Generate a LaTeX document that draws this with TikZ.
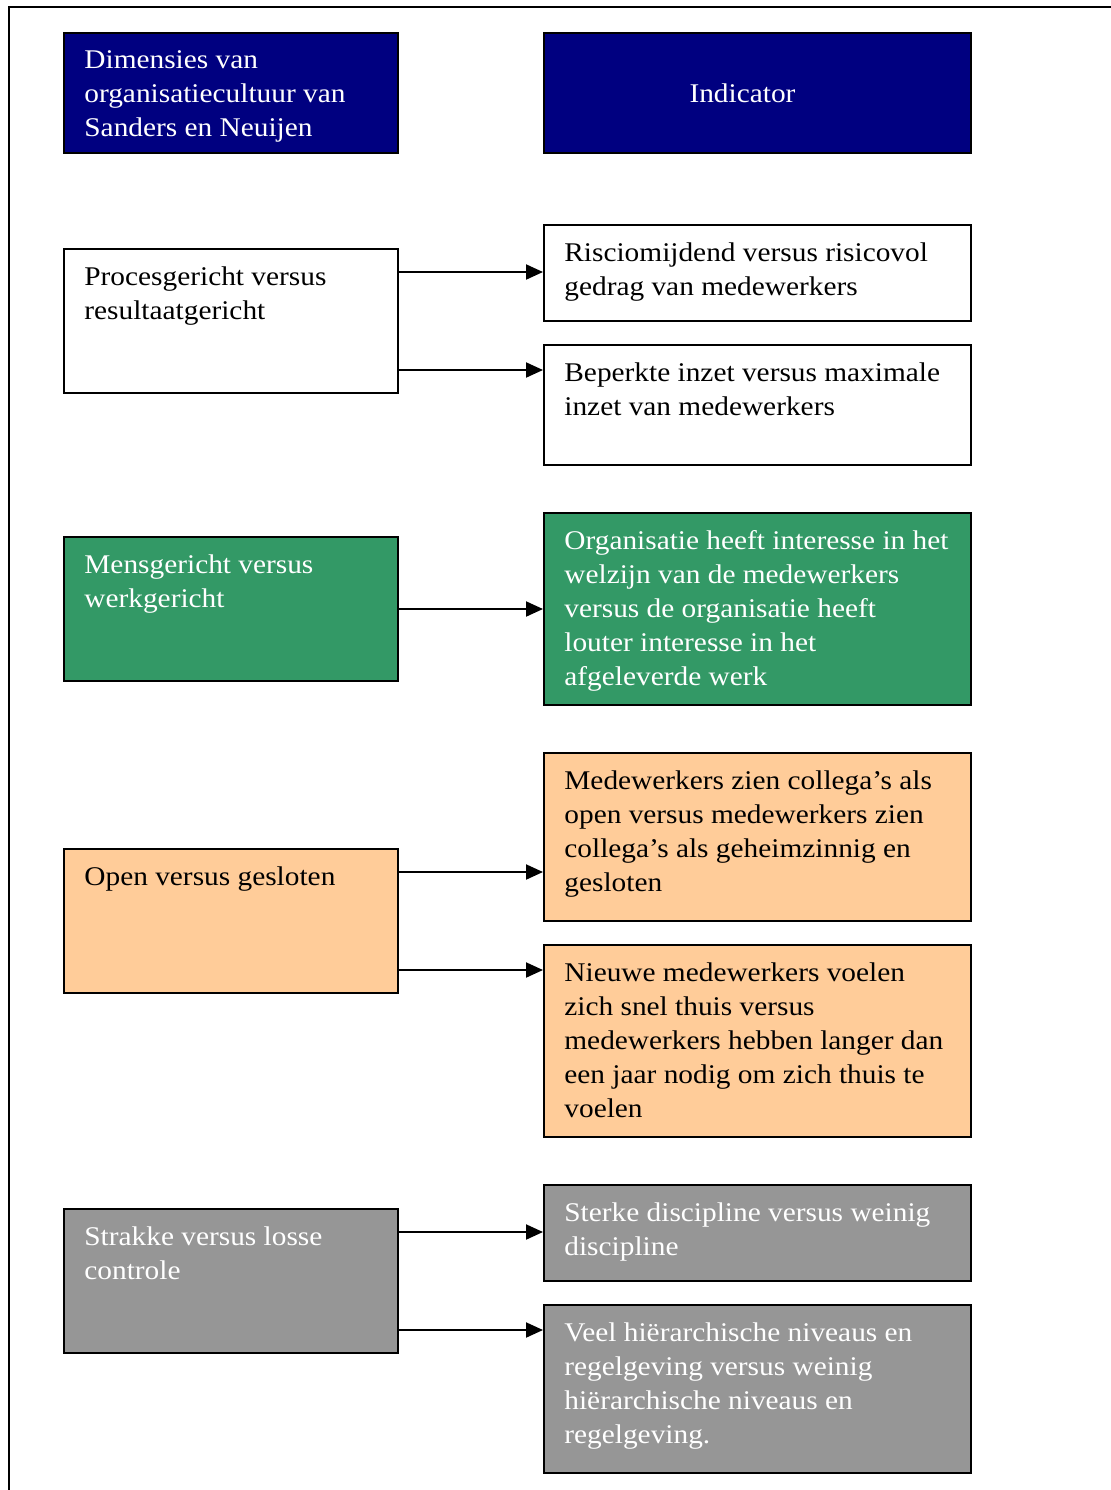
\documentclass[tikz,border=0pt]{standalone}
\usepackage{fontspec}
\setmainfont{Liberation Serif}[FakeStretch=1.087]
\usetikzlibrary{arrows.meta}

\definecolor{navyfill}{HTML}{000080}
\definecolor{greenfill}{HTML}{339966}
\definecolor{orangefill}{HTML}{FFCC99}
\definecolor{grayfill}{HTML}{969696}

\newcommand\celltext[1]{\parbox[t]{210pt}{\raggedright #1}}

\tikzset{
  panel/.style={draw=black, line width=1pt, rectangle, inner sep=0pt, anchor=north west},
  dimbox/.style={panel, minimum width=167pt, minimum height=72pt},
  indbox/.style={panel, minimum width=213.5pt},
  label/.style={inner sep=0pt, anchor=base west,
    font=\fontsize{13.5}{17}\selectfont},
  conn/.style={line width=1pt, -{Triangle[length=8.5pt,width=7.5pt]}},
}

\begin{document}
\begin{tikzpicture}[x=0.5pt, y=-0.5pt]
\useasboundingbox (0,0) rectangle (1110,1490);

% page frame
\draw[line width=1pt] (9,1500) -- (9,7) -- (1120,7);

% headers
\node[panel, fill=navyfill, minimum width=167pt, minimum height=60pt] (hdim) at (63,32) {};
\node[label, text=white] (hdimt) at (84,68) {\celltext{Dimensies van\\organisatiecultuur van\\Sanders en Neuijen}};
\node[indbox, fill=navyfill, minimum height=60pt] (hind) at (543,32) {};
\node[inner sep=0pt, text=white, font=\fontsize{13.5}{17}\selectfont] (hindt) at ([xshift=-7.5pt]hind.center) {Indicator};

% process vs result
\node[dimbox, fill=white] (d1) at (63,248) {};
\node[label] (d1t) at (84,285) {\celltext{Procesgericht versus\\resultaatgericht}};
\node[indbox, fill=white, minimum height=48pt] (i1a) at (543,224) {};
\node[label] (i1at) at (564,261) {\celltext{Risciomijdend versus risicovol\\gedrag van medewerkers}};
\node[indbox, fill=white, minimum height=60pt] (i1b) at (543,344) {};
\node[label] (i1bt) at (564,381) {\celltext{Beperkte inzet versus maximale\\inzet van medewerkers}};

% people vs work
\node[dimbox, fill=greenfill] (d2) at (63,536) {};
\node[label, text=white] (d2t) at (84,573) {\celltext{Mensgericht versus\\werkgericht}};
\node[indbox, fill=greenfill, minimum height=96pt] (i2) at (543,512) {};
\node[label, text=white] (i2t) at (564,549) {\celltext{Organisatie heeft interesse in het\\welzijn van de medewerkers\\versus de organisatie heeft\\louter interesse in het\\afgeleverde werk}};

% open vs closed
\node[dimbox, fill=orangefill] (d3) at (63,848) {};
\node[label] (d3t) at (84,885) {\celltext{Open versus gesloten}};
\node[indbox, fill=orangefill, minimum height=84pt] (i3a) at (543,752) {};
\node[label] (i3at) at (564,789) {\celltext{Medewerkers zien collega’s als\\open versus medewerkers zien\\collega’s als geheimzinnig en\\gesloten}};
\node[indbox, fill=orangefill, minimum height=96pt] (i3b) at (543,944) {};
\node[label] (i3bt) at (564,981) {\celltext{Nieuwe medewerkers voelen\\zich snel thuis versus\\medewerkers hebben langer dan\\een jaar nodig om zich thuis te\\voelen}};

% tight vs loose control
\node[dimbox, fill=grayfill] (d4) at (63,1208) {};
\node[label, text=white] (d4t) at (84,1245) {\celltext{Strakke versus losse\\controle}};
\node[indbox, fill=grayfill, minimum height=48pt] (i4a) at (543,1184) {};
\node[label, text=white] (i4at) at (564,1221) {\celltext{Sterke discipline versus weinig\\discipline}};
\node[indbox, fill=grayfill, minimum height=84pt] (i4b) at (543,1304) {};
\node[label, text=white] (i4bt) at (564,1341) {\celltext{Veel hiërarchische niveaus en\\regelgeving versus weinig\\hiërarchische niveaus en\\regelgeving.}};

% connectors
\draw[conn] ([yshift=-12pt]d1.north east) -- ([yshift=-12pt]d1.north east -| i1a.west);
\draw[conn] ([yshift=12pt]d1.south east) -- ([yshift=12pt]d1.south east -| i1b.west);
\draw[conn] (d2.east) -- (d2.east -| i2.west);
\draw[conn] ([yshift=-12pt]d3.north east) -- ([yshift=-12pt]d3.north east -| i3a.west);
\draw[conn] ([yshift=12pt]d3.south east) -- ([yshift=12pt]d3.south east -| i3b.west);
\draw[conn] ([yshift=-12pt]d4.north east) -- ([yshift=-12pt]d4.north east -| i4a.west);
\draw[conn] ([yshift=12pt]d4.south east) -- ([yshift=12pt]d4.south east -| i4b.west);
\end{tikzpicture}
\end{document}
